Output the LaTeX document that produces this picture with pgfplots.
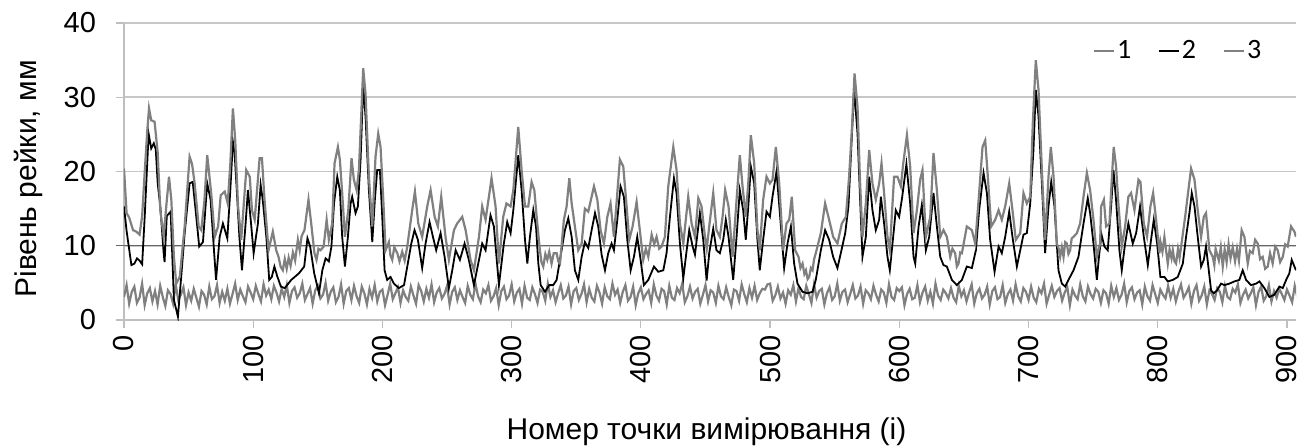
\documentclass[border=0pt]{standalone}
\usepackage{fontspec}
\setmainfont{Liberation Sans}
\newfontfamily\carlito{Carlito}
\usepackage{pgfplots}
\pgfplotsset{compat=1.18}
\begin{document}
\begin{tikzpicture}
\begin{axis}[
  at={(0,0)}, anchor=origin,
  scale only axis, width=586pt, height=148.5pt,
  xmin=0, xmax=907, ymin=0, ymax=40,
  enlargelimits=false,
  axis lines*=left,
  axis line style={black!25, line width=0.6pt},
  xtick={0,100,...,900}, ytick={0,10,...,40},
  tick align=outside, major tick length=4pt,
  tick style={black!25, line width=0.6pt},
  ymajorgrids, grid style={black!22, line width=0.8pt},
  extra y ticks={10}, extra y tick labels={},
  extra y tick style={grid style={black!60, line width=0.5pt}, tick style={black!60}},
  /pgf/number format/assume math mode=true,
  tick label style={font=\fontsize{14.5}{16}\selectfont},
  xticklabel style={rotate=90, anchor=east},
  yticklabel style={anchor=east, xshift=-6.5pt},
  xlabel={Номер точки вимірювання (і)},
  ylabel={Рівень рейки, мм},
  label style={font=\fontsize{15}{18}\selectfont},
  xlabel style={at={(axis description cs:0.497,-0.4007)}, anchor=base},
  ylabel style={at={(axis description cs:-0.0815,0.475)}, anchor=center},
  legend style={draw=none, fill=none, inner sep=0pt, legend columns=3,
    at={(axis description cs:0.826,0.905)}, anchor=west,
    font=\carlito\fontsize{14}{16}\selectfont,
    nodes={inner sep=1.2pt},
    /tikz/every even column/.append style={column sep=12pt}},
  legend image code/.code={\draw[#1] (0pt,0pt) -- (10pt,0pt);},
]
% series 1
\addplot[color=black!50, line width=1.1pt] coordinates {
(0,3.1)(2,4.7)(4,2.2)(6,3.8)(8,4.5)(10,2.3)(12,3.0)(14,4.9)(16,2.0)(18,3.6)
(20,4.3)(22,2.5)(24,3.9)(26,2.1)(28,4.6)(30,3.1)(32,1.9)(34,4.0)(36,3.5)(38,2.2)
(40,4.8)(42,2.7)(44,3.4)(46,4.4)(48,2.0)(50,3.7)(52,2.6)(54,4.2)(56,3.0)(58,1.8)
(60,3.9)(62,3.4)(64,2.1)(66,4.5)(68,2.8)(70,3.2)(72,4.7)(74,2.3)(76,3.8)(78,2.6)
(80,4.2)(82,2.2)(84,3.5)(86,4.9)(88,2.7)(90,4.1)(92,3.2)(94,2.4)(96,4.5)(98,3.7)
(100,2.8)(102,4.6)(104,3.5)(106,2.5)(108,4.8)(110,3.3)(112,4.1)(114,2.8)(116,4.6)(118,3.7)
(120,2.5)(122,4.2)(124,3.1)(126,4.7)(128,2.3)(130,3.9)(132,4.4)(134,3.0)(136,3.6)(138,4.9)
(140,2.7)(142,3.5)(144,4.3)(146,2.2)(148,4.0)(150,4.6)(152,2.9)(154,3.4)(156,5.0)(158,2.6)
(160,3.8)(162,4.4)(164,2.4)(166,3.1)(168,4.8)(170,2.2)(172,3.9)(174,4.3)(176,2.7)(178,4.6)
(180,3.2)(182,2.3)(184,4.5)(186,3.6)(188,2.1)(190,4.2)(192,3.0)(194,4.7)(196,2.5)(198,3.8)
(200,4.1)(202,2.0)(204,3.4)(206,4.9)(208,2.8)(210,3.6)(212,4.4)(214,2.3)(216,4.0)(218,3.1)
(220,2.6)(222,4.5)(224,3.3)(226,2.2)(228,4.7)(230,3.9)(232,2.5)(234,4.2)(236,3.0)(238,4.8)
(240,2.4)(242,3.7)(244,4.3)(246,2.9)(248,3.5)(250,4.6)(252,2.1)(254,3.8)(256,4.4)(258,2.7)
(260,4.0)(262,3.1)(264,2.3)(266,4.6)(268,3.4)(270,2.8)(272,4.9)(274,3.2)(276,2.4)(278,4.1)
(280,3.6)(282,4.7)(284,2.6)(286,3.2)(288,4.3)(290,2.0)(292,3.9)(294,4.5)(296,2.8)(298,3.3)
(300,4.8)(302,2.5)(304,3.7)(306,4.2)(308,2.2)(310,4.6)(312,3.0)(314,2.7)(316,4.4)(318,3.5)
(320,2.3)(322,4.1)(324,3.8)(326,2.6)(328,4.9)(330,3.1)(332,4.0)(334,2.4)(336,3.6)(338,4.7)
(340,2.9)(342,3.3)(344,4.5)(346,2.1)(348,3.9)(350,4.3)(352,2.7)(354,3.5)(356,4.8)(358,2.4)
(360,4.2)(362,3.0)(364,2.5)(366,4.6)(368,3.7)(370,2.2)(372,4.4)(374,3.2)(376,2.8)(378,4.9)
(380,3.4)(382,4.1)(384,2.3)(386,3.8)(388,4.7)(390,2.6)(392,3.1)(394,4.5)(396,2.0)(398,3.6)
(400,4.4)(402,2.8)(404,3.5)(406,4.0)(408,2.3)(410,4.8)(412,3.3)(414,2.6)(416,4.2)(418,3.9)
(420,2.1)(422,4.6)(424,3.0)(426,2.7)(428,4.3)(430,3.6)(432,4.9)(434,2.4)(436,3.2)(438,4.5)
(440,2.9)(442,3.8)(444,4.2)(446,2.2)(448,3.4)(450,4.7)(452,2.5)(454,4.0)(456,3.7)(458,2.3)
(460,4.6)(462,3.2)(464,2.8)(466,4.4)(468,3.1)(470,2.0)(472,4.1)(474,3.9)(476,2.6)(478,4.8)
(480,3.5)(482,2.4)(484,4.3)(486,3.0)(488,4.6)(490,2.7)(492,3.6)(494,4.2)(496,4.1)(498,4.8)
(500,4.9)(502,2.6)(504,3.3)(506,4.5)(508,2.9)(510,3.7)(512,2.2)(514,4.0)(516,3.4)(518,4.7)
(520,2.5)(522,4.3)(524,3.1)(526,2.8)(528,4.6)(530,3.5)(532,2.3)(534,4.8)(536,3.0)(538,3.9)
(540,4.2)(542,2.1)(544,3.6)(546,4.4)(548,2.7)(550,3.2)(552,4.9)(554,2.6)(556,3.8)(558,4.1)
(560,2.4)(562,3.5)(564,4.7)(566,2.9)(568,3.3)(570,4.5)(572,2.2)(574,4.0)(576,3.6)(578,2.8)
(580,4.6)(582,3.4)(584,2.5)(586,4.1)(588,3.7)(590,2.3)(592,4.8)(594,3.1)(596,2.7)(598,4.3)
(600,3.9)(602,4.4)(604,2.0)(606,3.5)(608,4.2)(610,2.8)(612,3.0)(614,4.7)(616,2.4)(618,3.7)
(620,4.5)(622,2.6)(624,3.8)(626,2.2)(628,4.9)(630,3.3)(632,2.7)(634,4.1)(636,3.6)(638,2.9)
(640,4.3)(642,3.0)(644,2.4)(646,4.6)(648,3.2)(650,4.0)(652,2.5)(654,3.7)(656,4.8)(658,2.2)
(660,3.6)(662,4.2)(664,2.9)(666,3.4)(668,4.5)(670,2.1)(672,3.9)(674,4.4)(676,2.8)(678,3.1)
(680,4.7)(682,2.3)(684,3.5)(686,4.1)(688,2.6)(690,4.8)(692,3.2)(694,2.5)(696,4.3)(698,3.8)
(700,2.7)(702,4.5)(704,3.0)(706,2.4)(708,4.2)(710,3.6)(712,4.9)(714,2.2)(716,3.4)(718,4.6)
(720,3.1)(722,3.9)(724,4.3)(726,2.6)(728,3.7)(730,4.4)(732,2.0)(734,4.1)(736,3.3)(738,2.8)
(740,4.8)(742,3.2)(744,2.5)(746,4.5)(748,3.5)(750,2.9)(752,4.2)(754,3.8)(756,2.3)(758,4.0)
(760,3.6)(762,2.2)(764,4.6)(766,3.1)(768,4.3)(770,2.7)(772,3.4)(774,4.9)(776,2.4)(778,3.9)
(780,4.4)(782,2.8)(784,3.7)(786,4.0)(788,2.1)(790,4.5)(792,3.2)(794,2.6)(796,4.7)(798,3.5)
(800,2.3)(802,4.1)(804,3.4)(806,2.9)(808,4.6)(810,3.0)(812,4.2)(814,2.5)(816,3.8)(818,4.8)
(820,3.0)(822,3.6)(824,4.4)(826,2.2)(828,3.9)(830,4.7)(832,2.6)(834,3.3)(836,4.5)(838,2.1)
(840,4.0)(842,3.5)(844,2.7)(846,4.3)(848,3.8)(850,2.4)(852,4.6)(854,3.1)(856,2.8)(858,4.2)
(860,3.7)(862,4.8)(864,2.3)(866,3.4)(868,4.1)(870,2.9)(872,3.6)(874,4.4)(876,2.0)(878,3.8)
(880,4.5)(882,2.6)(884,3.2)(886,4.7)(888,2.5)(890,3.9)(892,3.0)(894,4.2)(896,3.5)(898,2.7)
(900,4.1)(902,3.3)(904,2.4)(906,4.6)(908,3.1)
};
% series 2
\addplot[color=black, line width=0.9pt, x filter/.expression={x*1.0033}] coordinates {
(0,15.3)(2,12)(5.7,7.4)(8,7.6)(10,8.3)(12,8)(14,7.5)(16,14)(19,25.1)(21,23.1)(23,23.8)(24.5,23)
(26,18.4)(28,15.3)(30.6,9)(31.3,7.8)(33,14)(36,14.6)(38.5,2.7)(41.6,0.45)(43.7,4.9)(46.8,11.7)
(50.6,18.4)(53,18.6)(55.7,14)(58,9.9)(60.9,10.5)(64.2,18.4)(66.8,16.2)(69.4,9.4)(71,5.4)(73.8,11.2)
(76.3,13)(79.7,11)(82,17.5)(84,24)(85.3,22.5)(87,17.5)(89,11.2)(91,6.7)(93.8,13)(95.6,17.5)
(98,13)(100,9)(103.3,13)(105.4,18.2)(107,16.2)(109.8,11.2)(112,5.4)(114,5.8)(116,7.2)(118.2,5.9)
(121,4.5)(124,4.3)(129,5.4)(135,6.3)(139,7.2)(141.5,11)(143.6,9.9)(146.7,6.3)(150.4,3.6)(153,6.7)
(155.5,8.3)(158,7.9)(160,9.9)(162,15.7)(164.5,19.3)(166.5,17.5)(168.3,11.2)(170.4,7.2)(172.7,11.2)
(174.8,15.7)(176,16.6)(178.6,14.4)(180.4,15.3)(182.5,21.6)(184.5,31.7)(186.3,27.4)(188.9,17.5)
(191.5,10.5)(193.5,16.2)(195.3,20.2)(197.4,20.2)(199.2,13.9)(201,6.7)(203,5.4)(205.6,5.8)(208.2,4.9)
(212,4.3)(216,4.7)(218.5,7.2)(221.6,10.3)(224.1,12.1)(226.7,10.8)(230,7)(232.6,10.3)(235.7,13.2)
(238.3,11.2)(240.8,9.4)(244.2,11.7)(247.3,8.5)(250.6,4.3)(253.2,6.7)(255.8,9.4)(259.1,8.1)(262.7,10.3)
(266,8.1)(269.9,4.7)(273.8,8.1)(276.3,10.3)(278.9,9.4)(282.7,14.1)(285.3,12.6)(289.2,4.7)(293,10.3)
(295.6,13.2)(298.2,11.7)(300.3,14.8)(304.1,22.2)(306.7,17.5)(309.3,10.8)(311.1,7.6)(313.1,11.2)
(315.7,14.8)(317.8,12.6)(319.6,7.6)(321.4,4.7)(324.7,3.8)(328,4.7)(331.1,4.7)(333.7,5.4)(337.5,9.4)
(340.1,12.1)(342.7,13.7)(345.3,11.2)(347.8,6.7)(350.4,5.4)(353,8.5)(355.5,10.5)(358.1,9.7)(360.7,12.1)
(363.3,14.4)(365.8,12.6)(368.4,8.8)(371,6.7)(373.5,9)(376.1,10.3)(377.9,9.4)(380.5,13.5)(383,18)
(385.6,16.6)(388.2,10.8)(390.8,6.7)(393.3,8.5)(395.9,11.2)(398.5,8.1)(401,4.7)(404.4,5.4)(408.8,7.2)
(412.1,6.5)(416,6.7)(418.5,9)(421.1,13.9)(424.2,19.1)(426.2,17.1)(428.8,10.3)(431.4,5.6)(434,9.4)
(436,12.1)(438.6,9.9)(440.4,8.8)(443,12.6)(444.2,14.4)(446.8,10.8)(449.4,5.3)(451.4,9)(454.5,12.3)
(457,9.4)(459.6,9)(462.2,10.8)(464.2,13.5)(466.3,11.2)(469.9,5.4)(472.5,11.2)(475,17.5)(477.6,14.8)
(479.6,10.8)(481.7,15.7)(483.5,20.7)(486.1,18.4)(488.6,10.8)(490.4,6.7)(493,10.8)(495.6,14.6)
(498.2,13.9)(500.2,16.6)(503.3,20)(505.9,14.4)(509.2,7)(511.8,10.3)(514.4,12.6)(516.9,7.6)(519.5,4.9)
(523.4,3.8)(527.2,3.6)(531.1,3.8)(533.6,5.4)(537.5,9.4)(540.8,12.1)(543.9,10.8)(547,8.5)(550.3,7)
(552.9,9)(556.3,11.7)(558.8,15.3)(560.9,22.9)(563.2,31)(565.8,25.1)(567.6,17.1)(569.6,8.5)(572.2,11.2)
(574.8,19.3)(577.3,14.8)(579.9,12.1)(582.5,13.5)(583.8,16.6)(586.3,13)(588.9,8.5)(590.7,6.7)
(593.3,11.2)(595.3,14.8)(597.9,13.9)(600.2,16.5)(603.5,21)(606.4,15.7)(609,8.5)(610.3,7.6)(612.9,12.6)
(615.4,15.5)(618.5,9.4)(621.1,11.2)(624.4,17.1)(627,12.6)(629.6,8.5)(632.1,7.4)(634.7,7.2)(638.6,5.4)
(642.4,4.7)(646.3,5.4)(650.1,7.2)(654,7)(657.1,9.4)(659.6,14.8)(663,19.8)(665.6,17.1)(668.1,10.8)
(671.5,6.5)(674.6,9.9)(677.1,9)(679.7,11.2)(682.8,14.6)(685.3,11.2)(688.7,7.2)(691.3,9.4)(693.8,11.5)
(696.4,11.7)(699,15.7)(701.5,22.9)(703.3,31)(705.4,27.4)(708,18.4)(710.5,9)(713.1,15.3)(715.2,18.6)
(717.7,15.3)(720.8,6.7)(723.4,4.9)(726,4.5)(728.5,5.4)(732.4,6.7)(736.2,8.5)(740.1,13)(743.4,16.4)
(745.2,14.4)(747.8,10.3)(750.4,5.4)(752,8.5)(754,11.5)(756.2,9.9)(758.8,9.4)(761.4,15.3)(763.2,20.2)
(765.2,16.2)(767.8,9.4)(769.6,6.7)(772.2,10.3)(774.7,13)(778.1,10.3)(780.7,11.7)(783.7,15.3)
(786.6,11.2)(789.7,7.4)(792.2,10.8)(794.3,13.5)(796.9,10.3)(799.4,5.8)(802.5,5.8)(805.1,5.2)(809,5.4)
(812.8,5.8)(816.7,7.6)(819.2,11.2)(821.8,14.4)(823.6,17.1)(825.7,15.3)(828.2,11.2)(830.8,7.2)
(832.9,8.1)(834.6,9.9)(836.4,7.2)(838.5,4)(840.6,3.6)(843.1,4)(846.2,4.9)(848.8,4.7)(852.6,4.9)
(856.5,5.2)(860.3,5.4)(862.9,6.7)(865.5,5.4)(869.3,4.7)(873.2,4.9)(875.8,5.2)(879.6,4.3)(883.5,3.1)
(887.3,3.4)(891.2,4.5)(893.8,4.3)(896.4,5.4)(898.9,6.3)(900.7,8.1)(902.8,7.2)(904,6.7)
};
% series 3
\addplot[color=black!50, line width=1.1pt, x filter/.expression={x*1.0033}] coordinates {
(0,20.4)(2,14.4)(4,13.8)(7,12.1)(9.5,11.9)(12,11.5)(14,14)(16,20)(18,25.6)(19.3,28.5)(21,26.9)
(23.6,26.7)(26,22.5)(28,14.8)(30.6,11.2)(32.6,15.3)(34.7,19.3)(36.5,16.2)(38.5,8.5)(40.3,4.9)(43,5.8)
(46.8,12.6)(50.6,22)(52.5,21)(54.5,18.4)(57.6,12.6)(59.6,12.1)(62,16)(64.2,22.2)(67.3,17)(70,11.2)
(72.6,12.6)(74.6,16.8)(77.7,17.3)(80,15.7)(82,21)(84,28.5)(85.8,24.2)(88,15.3)(90.4,10.8)(94.3,20.2)
(97,19.3)(98.7,14.8)(100.8,13.5)(104.6,21.8)(106.4,21.8)(108.4,16.2)(111.5,9.4)(114.8,11.9)(117.4,9.4)
(119.2,8.5)(120.8,7.2)(122.5,6.7)(124,8.2)(125.5,6.9)(127,8.4)(128.5,7.3)(130.3,9.1)(132,8.0)
(134.1,10.8)(135.5,9.4)(137,11.3)(139.2,12.1)(142.3,16.2)(144.4,13)(146.9,9)(148.5,8.1)(150,9.6)
(151.6,9.4)(154,9.9)(156.3,13.5)(158,10.8)(160.6,13)(162.4,21.1)(165,23.3)(166.5,21.6)(168.3,17.1)
(170.4,11.2)(173,14.8)(175.5,21.8)(177.3,18.9)(179.4,17.5)(181.2,20.2)(184.5,33.9)(186.3,30.5)
(188.9,19.3)(191.5,12.6)(194,22)(196.1,25.1)(197.9,23.3)(200,16.2)(201.8,9.4)(204.3,10.5)(205.5,8.7)
(206.9,8.1)(208.5,9.8)(210.8,9)(212.5,7.9)(214.6,9.2)(216.5,8.0)(218.5,9.9)(222.3,14.8)(224.4,17.3)
(227,13)(230,11.2)(233.9,15.3)(236.5,17.5)(239.6,13.9)(242.1,12.6)(244.7,16.6)(248,11.2)(250.6,8.1)
(254.5,12.1)(257,13)(260.9,13.9)(263.5,12.1)(267.3,8.1)(269.9,6.7)(273.8,11.2)(276.3,15.3)(278.9,13.5)
(282.2,17.5)(283.5,19.1)(286.6,15.3)(289.2,7.6)(292.5,13.9)(295,15.7)(298.2,15.3)(300.3,17.5)
(304.1,26)(306.7,20.2)(309.3,15.3)(311.8,15.3)(314.4,18.6)(316.5,17.5)(318.3,13.9)(320.8,9.4)
(322,7.8)(323.4,7.2)(325,8.9)(326.5,8.1)(328,9.2)(329.8,7.6)(331.5,9.0)(333.7,9)(335,7.9)(336.3,7.6)
(339.3,13.5)(341.4,15.3)(343.5,19.1)(345.3,15.7)(347.8,12.6)(350.4,9.4)(353,10.3)(355.5,15)
(358.1,14.6)(360.7,16.6)(362.5,18)(365.1,16.2)(367.6,12.1)(370.2,10.3)(372.8,13.9)(375.3,15.7)
(377.9,11.2)(380.5,17.1)(382.5,21.6)(385.1,20.7)(387.7,15.3)(389.7,10.8)(392.3,12.6)(395.4,15.9)
(398,11.9)(400.5,8.1)(402.5,9.6)(404.4,8.5)(407,11.5)(409,10.2)(410.8,11.2)(412.8,9.6)(414.7,9.9)
(417.2,11.2)(419.8,18)(423.7,23.3)(426.2,20.2)(428.8,13)(431.4,10.3)(435.2,16.6)(437.8,13)(440.4,11.2)
(443,16.4)(445.5,15.3)(448.1,11.2)(449.5,9.6)(451.4,12.6)(454.5,17.1)(457,12.1)(459.6,11.2)(461.7,13.9)
(463.7,17.5)(466.3,15.3)(469.4,8.5)(472.5,16.2)(475,22.2)(477.1,18)(479.6,13.9)(481.7,18.9)
(483.5,24.9)(486.1,21.1)(488.6,12.1)(490.4,9.4)(493,16.2)(495.6,19.3)(498.2,18.4)(500.2,18.9)
(502.8,23.3)(505.4,18.4)(508.4,9.4)(511,13)(513.1,13.5)(515.1,16.6)(517.7,9.4)(520.3,8.5)(521.8,7.0)
(523.4,7.6)(524.8,6.2)(526,6.7)(527.3,5.5)(528.5,5.8)(529.8,7.0)(531.1,6.7)(532.3,8.2)(533.6,9)
(537.5,11.7)(539.3,13.9)(540.8,15.7)(543.9,13.5)(547,11.2)(550.3,10.3)(553.7,13)(556.8,13.9)
(559.3,19.3)(561.4,25.6)(563.5,33.2)(565.8,28.7)(567.6,19.3)(569.6,11.2)(572.2,15.7)(574.8,22.9)
(577.3,18.4)(579.9,16.2)(582.5,18.4)(584.3,21.1)(586.3,17.1)(588.9,11.2)(590.7,9.4)(594,19.3)
(596.6,19.3)(599.2,18)(601,21)(603.9,24.9)(606.4,20.7)(609,11.7)(611.6,14.8)(614.1,18.9)(615.9,20.2)
(618.5,11.2)(621.9,13.9)(624.4,22.5)(627,17.5)(629.6,11.2)(632.1,12.1)(634.7,11.2)(637.3,8.5)
(639,9.6)(641.1,9)(642.4,7.2)(643.7,7.6)(645,9.1)(646.3,9)(650.1,12.6)(654,12.1)(656.6,10.3)
(659.6,17.1)(662.2,23.3)(664.3,24.2)(666.3,19.3)(668.9,12.6)(672,13.5)(674.6,14.8)(677.1,13.5)
(679.7,15.3)(682.8,18.4)(685.3,14.8)(687.9,10.8)(691.3,11.7)(693.8,17.1)(696.4,15.7)(699,16.6)
(701,26.5)(703.3,35)(705.4,31)(708,20.2)(710.5,10.8)(713.1,19.3)(714.9,23.3)(717,19.3)(719.5,10.3)
(721,9.6)(722.1,8.5)(723.4,9.8)(724.7,8.5)(726,10.5)(727.2,10.3)(728.5,8.9)(729.8,9.4)(731,11)
(732.4,11.2)(735,11.7)(737.5,13)(740.1,16.6)(742.7,19.8)(745.2,17.5)(747.8,13.5)(750.4,8.5)
(752.9,10.3)(753.7,15.3)(755.8,16.2)(757.5,12.6)(760.1,13)(761.9,18.9)(763.4,23.3)(765.2,20.7)
(767,15.7)(769.6,9.9)(772.2,12.6)(774.7,16.6)(776.8,17.1)(779.4,14.8)(782.5,18.9)(784,18.6)
(786.6,13)(789.1,11.2)(791.7,15.3)(793.8,17.1)(796.1,13.5)(798.7,9)(799.5,10.5)(801,9.2)(802.5,11.2)
(804,9.1)(805.1,7.6)(806.5,9.5)(808,8.3)(809,9.4)(810.3,7.9)(811.5,7.6)(813,9.6)(814.2,8.4)
(815.4,9.9)(818.5,13.9)(821,17.5)(823.1,20.4)(825.7,18.9)(828.2,14.8)(830.8,11.2)(832.9,13.9)
(834.6,14.4)(837.2,9.4)(839.8,8.5)(841,7.4)(842,9.6)(844.5,8.0)(846,9.8)(847.5,7.2)(849,9.5)
(850.5,7.8)(852,10.2)(853.5,8.3)(855.2,9.8)(857,7.9)(858.5,9.6)(860,8.0)(862.1,12.1)(864.2,11.2)
(866.8,7.6)(868.5,9.3)(870.6,9)(872.5,10.8)(874.5,10.3)(876.3,8.2)(878.3,8.5)(880.2,6.9)(882.2,7.2)
(884,9.0)(886,7.6)(888,9.9)(889.9,9.4)(891.8,7.8)(893.8,8.5)(895.7,10.2)(897.6,9.9)(900.2,12.6)
(902.8,11.9)(904,11.2)
};
\legend{1,2,3}
\end{axis}
\pgfresetboundingbox
\path (-62pt,-63.5pt) rectangle (594pt,160pt);
\end{tikzpicture}
\end{document}
